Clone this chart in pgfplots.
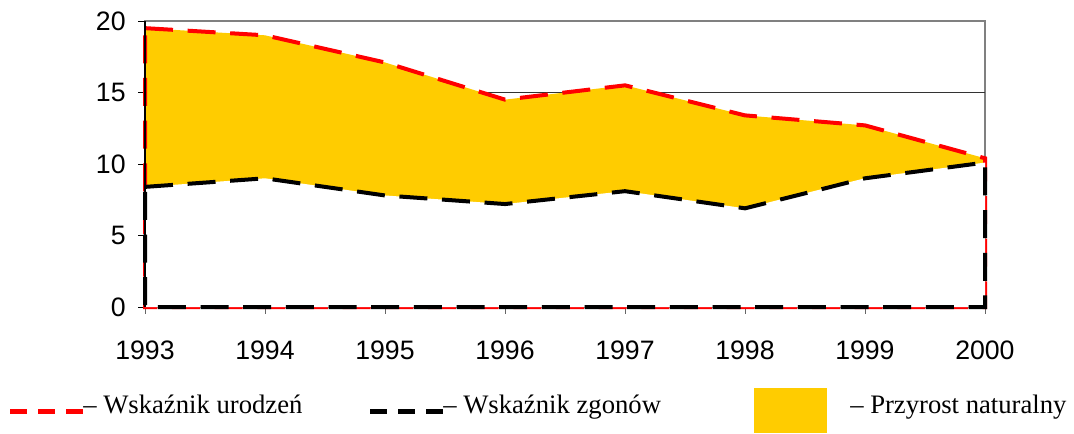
\documentclass[border=0pt]{standalone}
\usepackage{pgfplots}
\pgfplotsset{compat=1.18}
\usepackage{fontspec}
\setmainfont{Liberation Sans}
\newfontfamily\tnr{Liberation Serif}
\definecolor{przyrost}{HTML}{FFCC00}
\begin{document}
\begin{tikzpicture}
\path (0,0) rectangle (805.5pt,324.75pt);
\begin{axis}[
  at={(108.75pt,94.5pt)}, anchor=south west,
  scale only axis, width=630pt, height=214.5pt,
  xmin=1993, xmax=2000, ymin=0, ymax=20,
  xtick={1993,...,2000}, ytick={0,5,...,20},
  xticklabel style={/pgf/number format/1000 sep={}},
  /pgf/number format/assume math mode=true,
  ticklabel style={font=\fontsize{20}{23}\selectfont},
  tick align=outside, major tick length=5pt,
  tick style={black, line width=0.6pt},
  xtick style={black!60},
  xtick pos=bottom, ytick pos=left,
  axis line style={draw=black!50, line width=0.8pt},
  extra y ticks={5,10,15}, extra y tick labels={},
  extra y tick style={grid=major, major tick length=0pt},
  major grid style={black!80, line width=0.6pt},
  clip=false,
  yticklabel style={xshift=-6pt},
  xticklabel style={yshift=-17pt},
]
\addplot[fill=przyrost, draw=red, line width=3pt, dash pattern=on 21pt off 11pt]
  coordinates {(1993,19.5)(1994,19.0)(1995,17.1)(1996,14.5)(1997,15.5)(1998,13.4)(1999,12.7)(2000,10.4)} \closedcycle;
\addplot[fill=white, draw=black, line width=3pt, dash pattern=on 21pt off 11pt]
  coordinates {(1993,8.4)(1994,9.0)(1995,7.8)(1996,7.2)(1997,8.1)(1998,6.9)(1999,9.0)(2000,10.1)} \closedcycle;
\end{axis}
\draw[black, line width=0.8pt] (108.75pt,94.5pt) -- (108.75pt,309pt);
% legend
\draw[red, line width=3.75pt, dash pattern=on 12.75pt off 8.25pt] (7.5pt,16.1pt) -- (62.25pt,16.1pt);
\node[anchor=base west, inner sep=0pt, font=\tnr\fontsize{20}{24}\selectfont] at (62.25pt,15pt) {– Wskaźnik urodzeń};
\draw[black, line width=3.75pt, dash pattern=on 12.75pt off 8.25pt] (277.5pt,16.1pt) -- (332.25pt,16.1pt);
\node[anchor=base west, inner sep=0pt, font=\tnr\fontsize{20}{24}\selectfont] at (332.25pt,15pt) {– Wskaźnik zgonów};
\fill[przyrost] (565.5pt,0pt) rectangle (620.25pt,33.75pt);
\node[anchor=base west, inner sep=0pt, font=\tnr\fontsize{20}{24}\selectfont] at (637.5pt,15pt) {– Przyrost naturalny};
\end{tikzpicture}
\end{document}
